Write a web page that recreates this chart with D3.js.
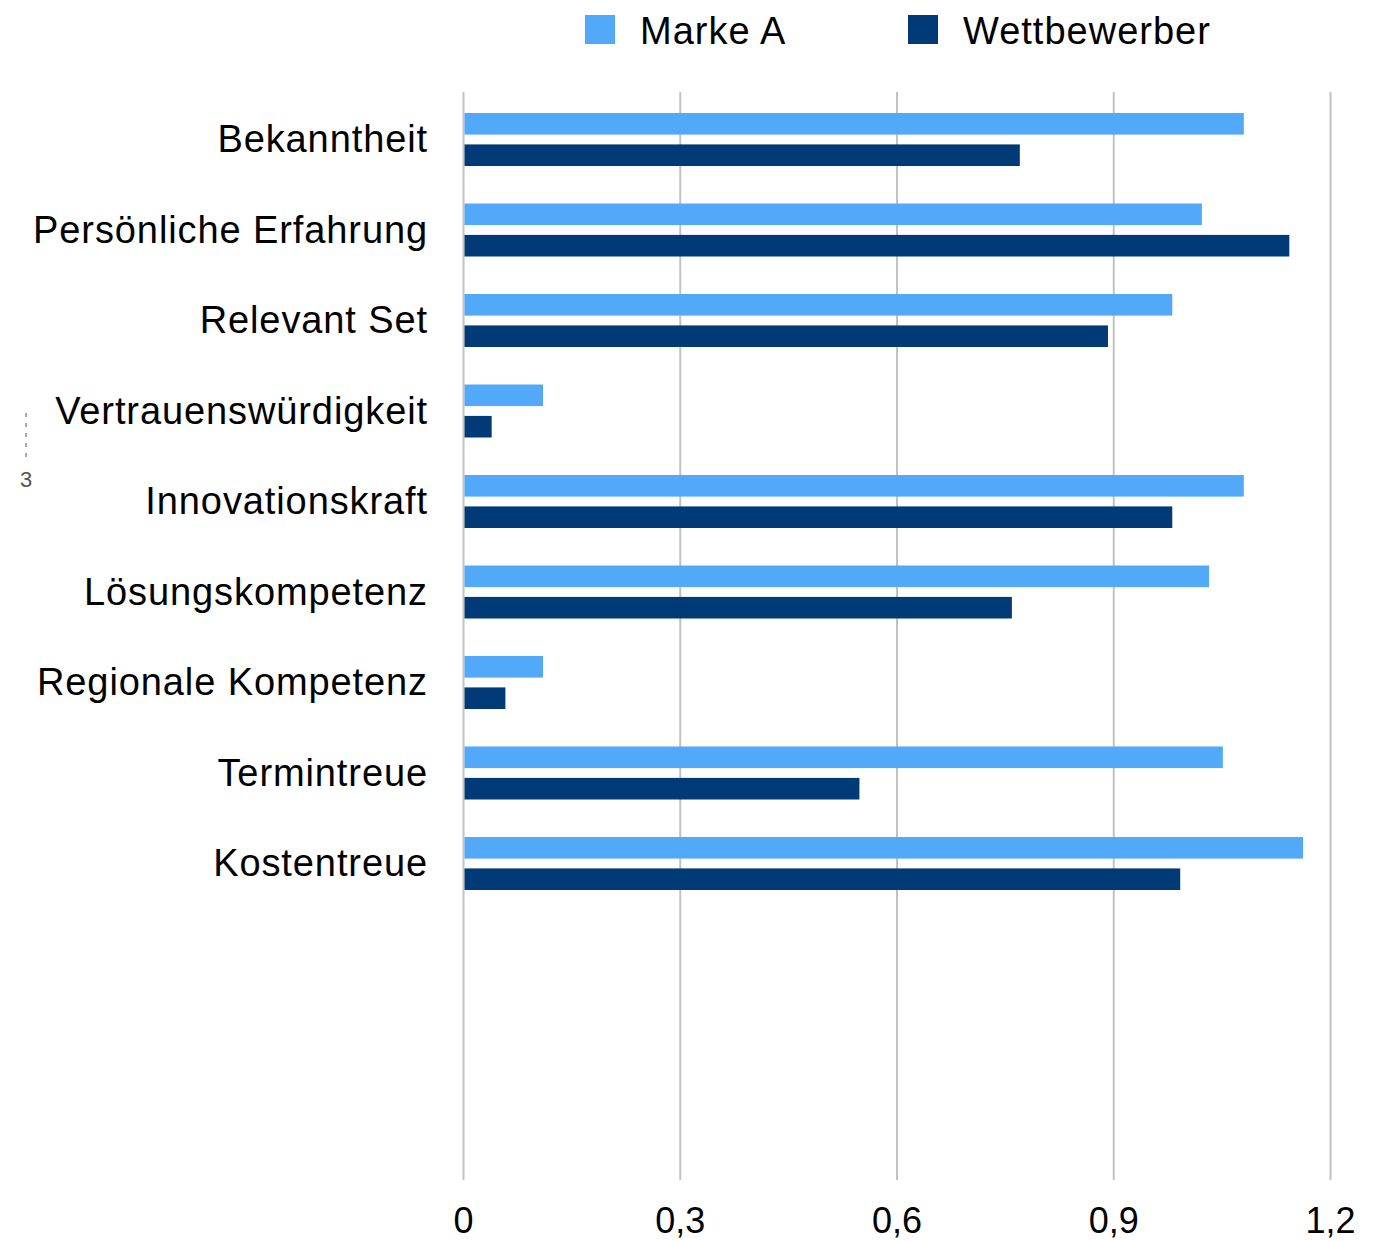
<!DOCTYPE html>
<html>
<head>
<meta charset="utf-8">
<script src="https://cdn.jsdelivr.net/npm/d3@7"></script>
<style>
  body { margin: 0; background: #fff; }
  svg { display: block; font-family: "Liberation Sans", Arial, Helvetica, sans-serif; }
</style>
</head>
<body>
<svg id="chart"></svg>
<script>
// data
var categories = ["Bekanntheit", "Persönliche Erfahrung", "Relevant Set", "Vertrauenswürdigkeit",
                  "Innovationskraft", "Lösungskompetenz", "Regionale Kompetenz", "Termintreue", "Kostentreue"];
var series = ["Marke A", "Wettbewerber"];
var markeA = [1.08, 1.022, 0.981, 0.110, 1.080, 1.032, 0.110, 1.051, 1.162];
var wettbewerber = [0.770, 1.143, 0.892, 0.039, 0.981, 0.759, 0.058, 0.548, 0.992];
var xTicks = [0, 0.3, 0.6, 0.9, 1.2];
var xTickLabels = ["0", "0,3", "0,6", "0,9", "1,2"];

var colors = d3.scaleOrdinal().domain(series).range(["#52a8f9", "#003b77"]);

var W = 1386, H = 1241;
var svg = d3.select("#chart").attr("width", W).attr("height", H);

var xscale = d3.scaleLinear().domain([0, 1.2]).range([463.5, 1330.5]);

// the plot keeps room for 12 rows, only 9 used
var slots = categories.concat(["_1", "_2", "_3"]);
var yscale = d3.scaleBand().domain(slots).range([92, 1178]);
var inner = d3.scaleBand().domain(series).range([21, 74]).paddingInner(0.3125);

// grid lines
svg.append("g").selectAll("line")
    .data(xTicks)
    .enter().append("line")
    .attr("x1", function(d) { return xscale(d); })
    .attr("x2", function(d) { return xscale(d); })
    .attr("y1", 92)
    .attr("y2", 1180)
    .style("stroke", "#c2c2c2")
    .style("stroke-width", 2);

// tick labels
svg.append("g").selectAll("text")
    .data(xTicks)
    .enter().append("text")
    .attr("x", function(d) { return xscale(d); })
    .attr("y", 1233)
    .attr("text-anchor", "middle")
    .style("font-size", "36px")
    .style("fill", "#000")
    .text(function(d, i) { return xTickLabels[i]; });

// bars
var rows = categories.map(function(c, i) {
  return { cat: c, values: [{ s: series[0], v: markeA[i] }, { s: series[1], v: wettbewerber[i] }] };
});

var row = svg.selectAll(".row")
    .data(rows)
    .enter().append("g")
    .attr("class", "row")
    .attr("transform", function(d) { return "translate(0," + yscale(d.cat) + ")"; });

row.selectAll("rect")
    .data(function(d) { return d.values; })
    .enter().append("rect")
    .attr("x", xscale(0) + 1)
    .attr("y", function(d) { return inner(d.s); })
    .attr("width", function(d) { return xscale(d.v) - xscale(0) - 1; })
    .attr("height", inner.bandwidth())
    .style("fill", function(d) { return colors(d.s); });

// category labels
row.append("text")
    .attr("x", 428)
    .attr("y", 60)
    .attr("text-anchor", "end")
    .style("font-size", "38px")
    .style("letter-spacing", "0.9px")
    .style("fill", "#000")
    .text(function(d) { return d.cat; });

// legend
var legendX = [585, 908];
var legend = svg.selectAll(".legend")
    .data(series)
    .enter().append("g")
    .attr("class", "legend")
    .attr("transform", function(d, i) { return "translate(" + legendX[i] + ",15)"; });

legend.append("rect")
    .attr("width", 30)
    .attr("height", 29)
    .style("fill", colors);

legend.append("text")
    .attr("x", 55)
    .attr("y", 29)
    .style("font-size", "38px")
    .style("letter-spacing", "1px")
    .style("fill", "#000")
    .text(function(d) { return d; });

// stray marker at the left edge
svg.append("line")
    .attr("x1", 26).attr("x2", 26)
    .attr("y1", 413).attr("y2", 457)
    .style("stroke", "#aaa")
    .style("stroke-width", 2)
    .style("stroke-dasharray", "4,6");

svg.append("text")
    .attr("x", 26)
    .attr("y", 487)
    .attr("text-anchor", "middle")
    .style("font-size", "22px")
    .style("fill", "#555")
    .text("3");
</script>
</body>
</html>
